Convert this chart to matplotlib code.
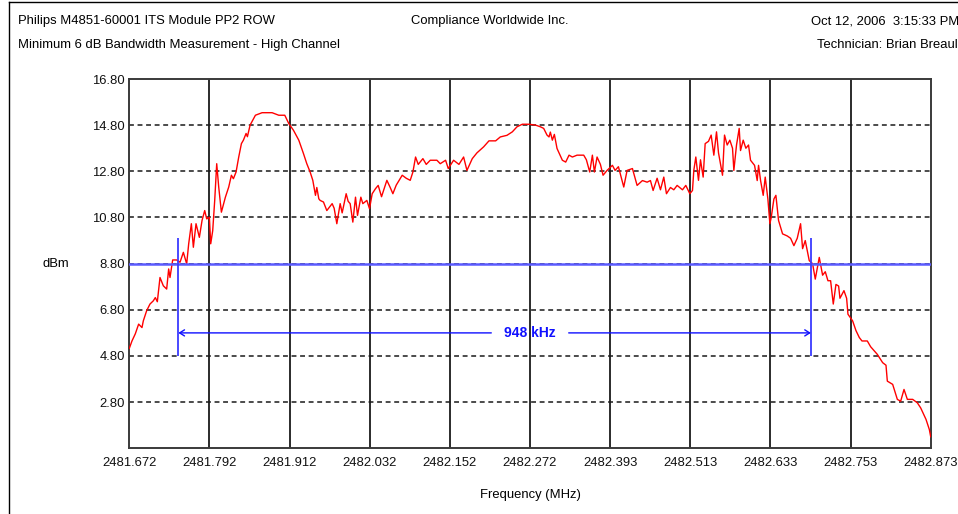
import matplotlib

matplotlib.use("Agg")
import matplotlib.pyplot as plt
import numpy as np
from matplotlib.lines import Line2D

W, H = 958, 514

# header text (right-hand line is cut at the window edge in the original)
title_left_1 = "Philips M4851-60001 ITS Module PP2 ROW"
title_left_2 = "Minimum 6 dB Bandwidth Measurement - High Channel"
title_mid = "Compliance Worldwide Inc."
title_right_1 = "Oct 12, 2006  3:15:33 PM"
title_right_2 = "Technician: Brian Breaul"

# axes
f_start = 2481.672
f_stop = 2482.873
x_tick_labels = ["2481.672", "2481.792", "2481.912", "2482.032", "2482.152", "2482.272",
                 "2482.393", "2482.513", "2482.633", "2482.753", "2482.873"]
y_ticks = [2.80, 4.80, 6.80, 8.80, 10.80, 12.80, 14.80, 16.80]
y_min, y_max = 0.80, 16.80

trace_khz = [0, 4, 9, 14, 19, 21, 26, 31, 36, 39, 42, 46, 51, 56, 59, 61, 65, 71, 76, 81,
             86, 89, 93, 96, 100, 105, 109, 113, 116, 120, 122, 125, 128, 131, 134, 138, 144, 149, 153, 156,
             160, 164, 168, 171, 175, 177, 181, 189, 199, 214, 224, 233, 239, 246, 254, 261, 266, 271, 275, 279,
             281, 284, 286, 291, 296, 304, 307, 311, 316, 319, 325, 328, 331, 335, 339, 342, 347, 350, 356, 360,
             364, 369, 373, 378, 386, 391, 395, 400, 409, 415, 421, 425, 429, 433, 440, 445, 451, 461, 466, 474,
             478, 486, 494, 501, 506, 514, 521, 531, 539, 549, 556, 566, 574, 581, 589, 599, 609, 616, 621, 626,
             629, 631, 634, 637, 641, 649, 654, 659, 664, 671, 681, 685, 690, 694, 697, 701, 706, 710, 716, 724,
             728, 733, 741, 746, 754, 761, 769, 776, 781, 785, 791, 796, 801, 805, 811, 816, 821, 829, 834, 840,
             844, 846, 849, 853, 856, 860, 863, 868, 872, 876, 880, 883, 889, 892, 896, 900, 904, 906, 910, 914,
             916, 920, 924, 928, 931, 937, 941, 943, 946, 950, 953, 957, 960, 962, 966, 969, 973, 979, 986, 991,
             996, 1001, 1006, 1009, 1013, 1019, 1024, 1028, 1034, 1039, 1043, 1047, 1051, 1055, 1059, 1063, 1065, 1071, 1075, 1077,
             1084, 1089, 1094, 1098, 1106, 1111, 1121, 1129, 1134, 1136, 1144, 1151, 1156, 1161, 1166, 1174, 1181, 1186, 1194, 1199,
             1201]
trace_dbm = [5.13, 5.45, 5.76, 6.18, 6.03, 6.32, 6.76, 7.05, 7.19, 7.33, 7.15, 8.20, 7.84, 7.70, 8.57, 8.20, 8.96, 8.96, 8.86, 9.29,
             8.79, 9.66, 10.53, 9.51, 10.53, 9.94, 10.67, 11.10, 10.74, 10.81, 9.66, 10.23, 11.54, 13.13, 12.12, 11.03, 11.68, 12.12, 12.63, 12.48,
             12.77, 13.42, 14.00, 14.15, 14.44, 14.30, 14.80, 15.23, 15.34, 15.34, 15.23, 15.23, 14.87, 14.58, 14.15, 13.57, 13.13, 12.77, 12.41, 11.76,
             12.10, 11.61, 11.54, 11.47, 11.10, 11.40, 11.20, 10.53, 11.40, 11.00, 11.83, 11.50, 11.40, 10.60, 11.68, 10.89, 11.68, 11.40, 11.54, 11.18,
             11.83, 12.05, 12.19, 11.70, 12.41, 12.10, 11.83, 12.20, 12.63, 12.50, 12.41, 12.77, 13.42, 13.10, 13.35, 13.10, 13.28, 13.28, 13.13, 13.28,
             12.92, 13.28, 13.10, 13.42, 12.84, 13.35, 13.60, 13.86, 14.12, 14.12, 14.29, 14.36, 14.51, 14.73, 14.84, 14.84, 14.80, 14.73, 14.66, 14.37,
             14.29, 14.50, 14.15, 14.40, 13.79, 13.28, 13.20, 13.50, 13.42, 13.50, 13.50, 13.30, 12.77, 13.50, 12.77, 13.42, 13.10, 12.63, 12.84, 13.06,
             12.84, 13.00, 12.12, 12.84, 12.92, 12.19, 12.40, 12.33, 12.40, 11.97, 12.50, 12.00, 12.55, 11.83, 12.10, 12.00, 12.19, 12.00, 12.19, 11.83,
             11.97, 12.84, 13.42, 12.41, 13.30, 12.55, 14.00, 14.10, 14.37, 13.50, 14.51, 13.60, 12.63, 14.37, 13.94, 14.15, 13.80, 12.84, 13.94, 14.66,
             13.70, 14.15, 13.80, 13.94, 13.28, 13.06, 12.40, 13.06, 12.41, 11.76, 12.55, 11.60, 10.53, 10.80, 11.60, 11.76, 10.67, 10.09, 10.00, 9.90,
             9.58, 9.90, 10.53, 9.45, 9.80, 8.93, 8.80, 8.13, 9.07, 8.30, 8.45, 8.06, 8.06, 7.05, 7.90, 7.83, 7.30, 7.63, 7.30, 6.61,
             6.32, 5.90, 5.60, 5.45, 5.45, 5.20, 4.87, 4.51, 4.40, 3.71, 3.57, 2.92, 2.84, 3.35, 2.92, 2.92, 2.77, 2.55, 2.05, 1.61,
             1.30]

# 6 dB bandwidth markers
marker_lo = 2481.7455
marker_hi = 2482.6935
marker_level = 8.80
marker_top = 9.93
marker_bottom = 4.80
arrow_level = 5.80
bw_label = "948 kHz"
label_gap = 0.058  # half-width of the break in the arrow line (MHz)

FONT = "Liberation Sans"
FS = 9.4

fig = plt.figure(figsize=(W / 100, H / 100), dpi=100)
ax = fig.add_axes([129.3 / W, 1 - 448.3 / H, (930.7 - 129.3) / W, (448.3 - 79) / H])

x_ticks = np.linspace(f_start, f_stop, len(x_tick_labels))

# grid
for xv in x_ticks[1:-1]:
    ax.axvline(xv, color="#1a1a1a", lw=1.3, zorder=1)
for yv in y_ticks[:-1]:
    ax.axhline(yv, color="#1a1a1a", lw=1.1, ls=(0, (3.2, 2.4)), zorder=1)

freq = f_start + np.array(trace_khz) / 1000.0
ax.plot(freq, trace_dbm, color="#ff0000", lw=1.0, zorder=3)

# markers
ax.axhline(marker_level, color="#5a5aff", lw=1.8, zorder=4)
ax.vlines([marker_lo, marker_hi], marker_bottom, marker_top, color="#3a3aff", lw=1.3, zorder=4)
f_mid = (f_start + f_stop) / 2
head = dict(arrowstyle="->,head_length=0.35,head_width=0.22", color="#1010ff", lw=1.0, shrinkA=0, shrinkB=0)
ax.annotate("", xy=(marker_lo, arrow_level), xytext=(f_mid - label_gap, arrow_level), arrowprops=head, zorder=4)
ax.annotate("", xy=(marker_hi, arrow_level), xytext=(f_mid + label_gap, arrow_level), arrowprops=head, zorder=4)
ax.text(f_mid, arrow_level, bw_label, ha="center", va="center", color="#1010ff",
        fontsize=FS + 0.6, fontweight="bold", family=FONT, zorder=5)

ax.set_xlim(f_start, f_stop)
ax.set_ylim(y_min, y_max)
ax.set_xticks(x_ticks)
ax.set_xticklabels(x_tick_labels)
ax.set_yticks(y_ticks)
ax.set_yticklabels([f"{v:.2f}" for v in y_ticks])
ax.tick_params(length=0, labelsize=FS, colors="#111111")
ax.tick_params(axis="x", pad=6.5)
ax.tick_params(axis="y", pad=3)
for lab in ax.get_xticklabels() + ax.get_yticklabels():
    lab.set_family(FONT)
for s in ax.spines.values():
    s.set_color("#3a3a3a")
    s.set_linewidth(1.4)

ax.set_xlabel("Frequency (MHz)", fontsize=FS, family=FONT, labelpad=14)
fig.text(56 / W, 1 - 264 / H, "dBm", ha="center", va="center", fontsize=FS, family=FONT)

# header
fig.text(18 / W, 1 - 21 / H, title_left_1, ha="left", va="center", fontsize=FS, family=FONT)
fig.text(18 / W, 1 - 45 / H, title_left_2, ha="left", va="center", fontsize=FS, family=FONT)
fig.text(411 / W, 1 - 21 / H, title_mid, ha="left", va="center", fontsize=FS, family=FONT)
fig.text(811 / W, 1 - 21 / H, title_right_1, ha="left", va="center", fontsize=FS, family=FONT)
fig.text(817 / W, 1 - 45 / H, title_right_2, ha="left", va="center", fontsize=FS, family=FONT)

# window frame
fig.add_artist(Line2D([8.5 / W, 8.5 / W], [0, 1 - 1.5 / H], transform=fig.transFigure, color="black", lw=1.0))
fig.add_artist(Line2D([8.5 / W, 1], [1 - 1.5 / H, 1 - 1.5 / H], transform=fig.transFigure, color="black", lw=1.0))

fig.savefig("out.png", dpi=100)
plt.close(fig)
